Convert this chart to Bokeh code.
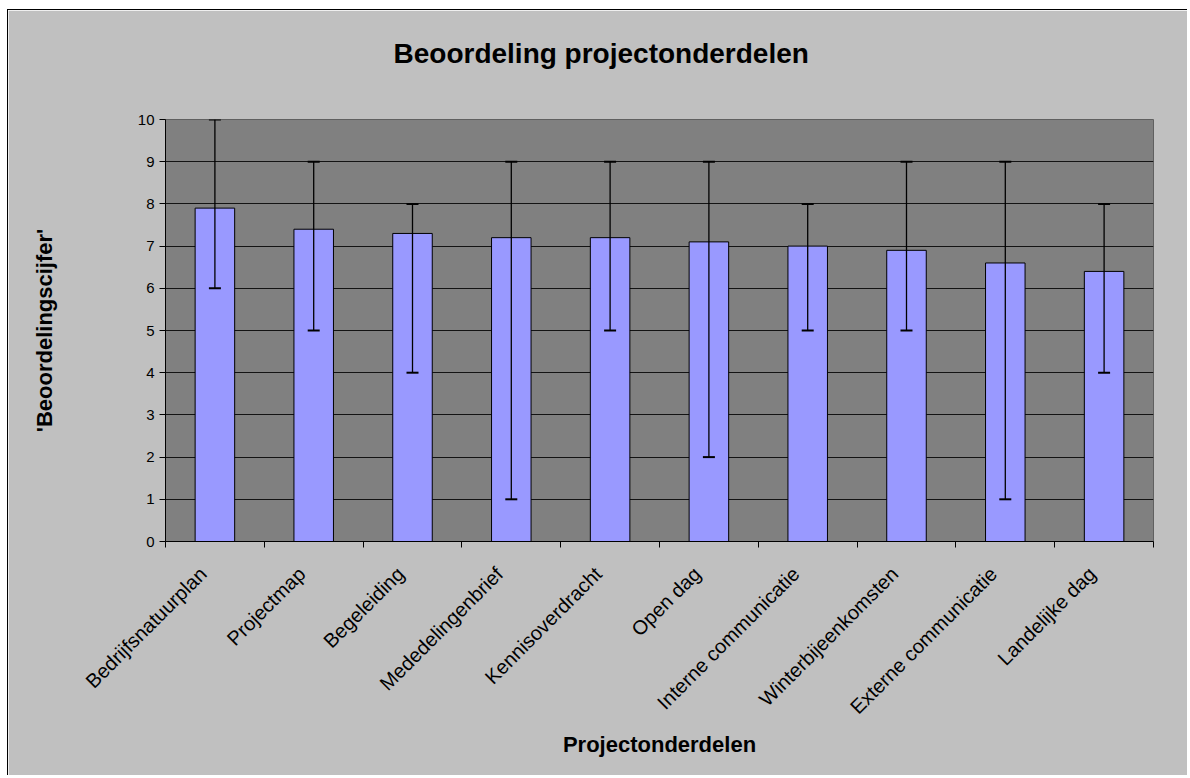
from bokeh.plotting import figure
from bokeh.models import (ColumnDataSource, Whisker, TeeHead, FixedTicker, Range1d, Title)
from bokeh.embed import file_html
from bokeh.resources import INLINE
from math import pi

categories = ["Bedrijfsnatuurplan", "Projectmap", "Begeleiding", "Mededelingenbrief",
              "Kennisoverdracht", "Open dag", "Interne communicatie",
              "Winterbijeenkomsten", "Externe communicatie", "Landelijke dag"]
scores = [7.9, 7.4, 7.3, 7.2, 7.2, 7.1, 7.0, 6.9, 6.6, 6.4]
lows = [6, 5, 4, 1, 5, 2, 5, 5, 1, 4]
highs = [10, 9, 8, 9, 9, 9, 8, 9, 9, 8]
y_ticks = [0, 1, 2, 3, 4, 5, 6, 7, 8, 9, 10]
title_text = "Beoordeling projectonderdelen"

FONT = "Liberation Sans"
BG = "#C0C0C0"
LABEL_SHIFT = 0.12  # rotated category labels end slightly left of the bar centre

n = len(categories)
xpos = [i + 0.5 for i in range(n)]
label_pos = [x - LABEL_SHIFT for x in xpos]
src = ColumnDataSource(dict(x=xpos, top=scores, lo=lows, hi=highs))

p = figure(width=1180, height=766, output_backend="svg", toolbar_location=None,
           x_range=Range1d(0, n), y_range=Range1d(0, 10),
           min_border_left=157, min_border_right=35, min_border_top=109,
           min_border_bottom=235, title=title_text,
           x_axis_label="Projectonderdelen", y_axis_label="'Beoordelingscijfer'")
p.styles = {"border-left": "1px solid black", "border-top": "1px solid black",
            "margin-top": "9px", "margin-left": "7px"}
p.background_fill_color = "#808080"
p.border_fill_color = BG
p.outline_line_color = "#606060"
p.outline_line_width = 1

# background-coloured spacer between the plot area and the title
spacer = Title(text=".", text_font_size="4px", text_color=BG, standoff=21)
p.add_layout(spacer, "above")

p.title.text_font = FONT
p.title.text_font_size = "28px"
p.title.text_font_style = "bold"
p.title.text_color = "black"
p.title.align = "left"
p.title.offset = 228
p.title.standoff = 50

p.vbar(x="x", top="top", width=0.4, bottom=0, source=src,
       fill_color="#9999FF", line_color="black", line_width=1)

w = Whisker(base="x", lower="lo", upper="hi", source=src, line_color="black",
            line_width=1.3, level="overlay",
            upper_head=TeeHead(size=12, line_color="black", line_width=2),
            lower_head=TeeHead(size=12, line_color="black", line_width=2))
p.add_layout(w)

# x axis: labels near category centres, tick marks at category boundaries
p.xaxis.ticker = FixedTicker(ticks=label_pos, minor_ticks=list(range(n + 1)))
p.xaxis.major_label_overrides = {x: c for x, c in zip(label_pos, categories)}
p.xaxis.major_label_orientation = pi / 4
p.xaxis.major_label_text_font = FONT
p.xaxis.major_label_text_font_size = "20px"
p.xaxis.major_label_text_color = "black"
p.xaxis.major_label_standoff = 23
p.xaxis.major_tick_in = 0
p.xaxis.major_tick_out = 0
p.xaxis.major_tick_line_color = None
p.xaxis.minor_tick_in = 0
p.xaxis.minor_tick_out = 6
p.xaxis.minor_tick_line_color = "black"
p.xaxis.axis_line_color = "black"
p.xaxis.axis_label_text_font = FONT
p.xaxis.axis_label_text_font_size = "22px"
p.xaxis.axis_label_text_font_style = "bold"
p.xaxis.axis_label_text_color = "black"
p.xaxis.axis_label_standoff = 3

p.yaxis.ticker = FixedTicker(ticks=y_ticks)
p.yaxis.major_tick_in = 0
p.yaxis.major_tick_out = 6
p.yaxis.minor_tick_line_color = None
p.yaxis.major_label_text_font = FONT
p.yaxis.major_label_text_font_size = "15px"
p.yaxis.major_label_text_color = "black"
p.yaxis.major_label_standoff = 5
p.yaxis.axis_line_color = "black"
p.yaxis.axis_label_text_font = FONT
p.yaxis.axis_label_text_font_size = "22px"
p.yaxis.axis_label_text_font_style = "bold"
p.yaxis.axis_label_text_color = "black"
p.yaxis.axis_label_standoff = 78

p.xgrid.visible = False
p.ygrid.ticker = FixedTicker(ticks=y_ticks[1:-1])
p.ygrid.grid_line_color = "black"
p.ygrid.grid_line_width = 1
p.ygrid.grid_line_alpha = 0.85

open("out.html", "w").write(file_html(p, INLINE))
